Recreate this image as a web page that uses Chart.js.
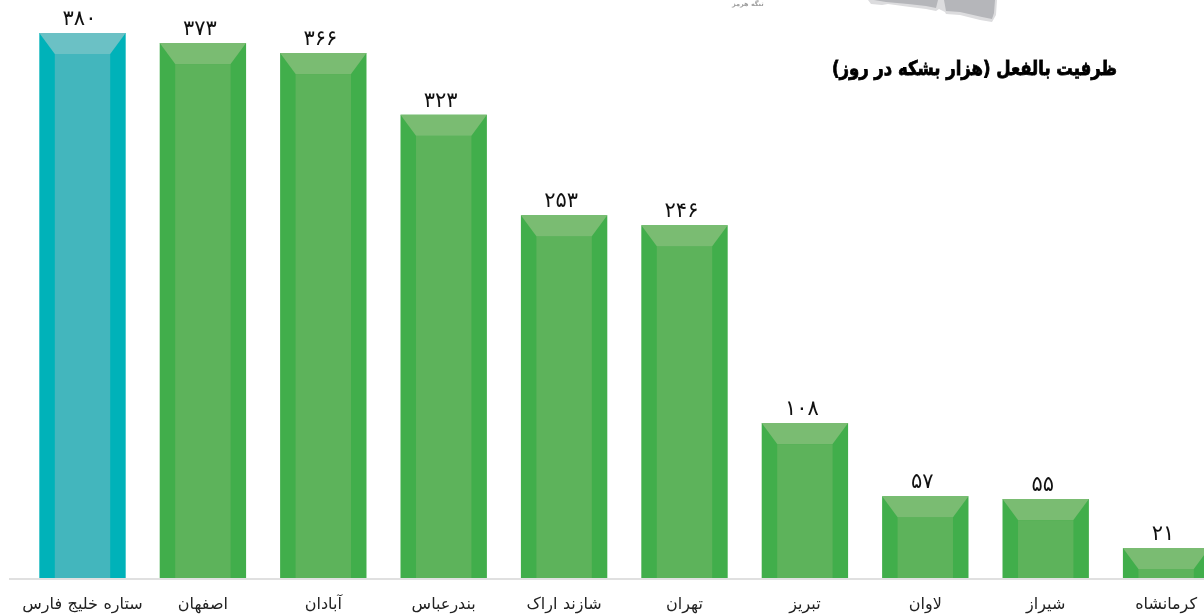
<!DOCTYPE html>
<html><head><meta charset="utf-8">
<style>
html,body{margin:0;padding:0;width:1204px;height:615px;overflow:hidden;background:#fff}
#wrap{position:absolute;left:0;top:0;width:1240px;height:615px}
svg{position:absolute;left:860px;top:0}
.t{position:absolute;direction:rtl;white-space:nowrap}
</style>
<script src="https://cdn.jsdelivr.net/npm/chart.js@4"></script>
</head><body>
<div id="wrap"><canvas id="c" width="1240" height="615"></canvas></div>
<svg width="140" height="24" viewBox="0 0 140 24">
<path d="M8 0 L11 4 L22 5 L28 4 L50 7 L66 9 L76 11 L79 9 L85 12 L86 14 L100 15 L120 20 L132 22 L136 15 L137 0 Z" fill="#dcdcde"/>
<path d="M14 0 L26 2 L48 4 L66 6 L76 8 L78 0 Z M84 0 L86 11 L100 12 L122 17 L132 19 L134 13 L135 0 Z" fill="#b5b6ba"/>
</svg>
<div class="t" style="left:732px;top:0;font:bold 6.5px 'DejaVu Sans';color:#a0a0a0">تنگه هرمز</div>
<script>
const categories=["ستاره خلیج فارس","اصفهان","آبادان","بندرعباس","شازند اراک","تهران","تبریز","لاوان","شیراز","کرمانشاه"];
const capacity=[380,373,366,323,253,246,108,57,55,21];
const valueLabels=["۳۸۰","۳۷۳","۳۶۶","۳۲۳","۲۵۳","۲۴۶","۱۰۸","۵۷","۵۵","۲۱"];
const sideColors=["#00b2b9","#41ae4b","#41ae4b","#41ae4b","#41ae4b","#41ae4b","#41ae4b","#41ae4b","#41ae4b","#41ae4b"];
const frontColors=["#43b6bd","#5db35b","#5db35b","#5db35b","#5db35b","#5db35b","#5db35b","#5db35b","#5db35b","#5db35b"];
const topColors=["#6bc1c5","#7abc72","#7abc72","#7abc72","#7abc72","#7abc72","#7abc72","#7abc72","#7abc72","#7abc72"];
const titleText="ظرفیت بالفعل (هزار بشکه در روز)";
const bevel={
 id:'bevel',
 beforeDraw(chart){ chart.ctx.letterSpacing="0.4px"; },
 afterDatasetsDraw(chart){
  const {ctx}=chart; const meta=chart.getDatasetMeta(0);
  const inset=15.5, drop=21;
  meta.data.forEach((b,i)=>{
   const l=b.x-b.width/2,r=b.x+b.width/2,t=b.y,bt=b.base;
   ctx.save();
   ctx.fillStyle=frontColors[i];
   ctx.fillRect(l+inset,t+drop,b.width-2*inset,bt-t-drop);
   ctx.fillStyle=topColors[i];
   ctx.beginPath();ctx.moveTo(l,t);ctx.lineTo(r,t);ctx.lineTo(r-inset,t+drop);ctx.lineTo(l+inset,t+drop);ctx.closePath();ctx.fill();
   ctx.font="21px 'DejaVu Sans'";
   ctx.letterSpacing="5.5px";
   ctx.fillStyle="#111";ctx.textAlign="center";ctx.textBaseline="bottom";
   ctx.direction="ltr";
   ctx.fillText(valueLabels[i],b.x-3,t-3);
   ctx.restore();
  });
  const ys=chart.scales.y,y0=ys.getPixelForValue(0);
  ctx.save();ctx.fillStyle="#e0e0e0";ctx.fillRect(9,y0,chart.width-9,2);
  ctx.letterSpacing="0px";
  ctx.translate(1117,70);ctx.scale(0.823,1);
  ctx.font="bold 20px 'DejaVu Sans'";ctx.fillStyle="#000";ctx.strokeStyle="#000";ctx.lineWidth=0.8;ctx.direction="rtl";ctx.textAlign="right";ctx.textBaseline="middle";
  ctx.fillText(titleText,0,0);ctx.strokeText(titleText,0,0);
  ctx.restore();
 }
};
new Chart(document.getElementById('c'),{
 type:'bar',
 data:{labels:categories,datasets:[{data:capacity,backgroundColor:sideColors,borderWidth:0,categoryPercentage:1,barPercentage:0.7175}]},
 options:{
  responsive:false,animation:false,
  layout:{padding:{left:22.3,right:13.7,top:0,bottom:0}},
  plugins:{legend:{display:false},tooltip:{enabled:false}},
  scales:{
   x:{grid:{display:false},border:{display:false},afterFit(s){s.height=37;},
      ticks:{color:"#222",font:{family:"'DejaVu Sans'",size:16},maxRotation:0,autoSkip:false,padding:9}},
   y:{display:false,min:0,max:403,grid:{display:false}}
  }
 },
 plugins:[bevel]
});
</script>
</body></html>
